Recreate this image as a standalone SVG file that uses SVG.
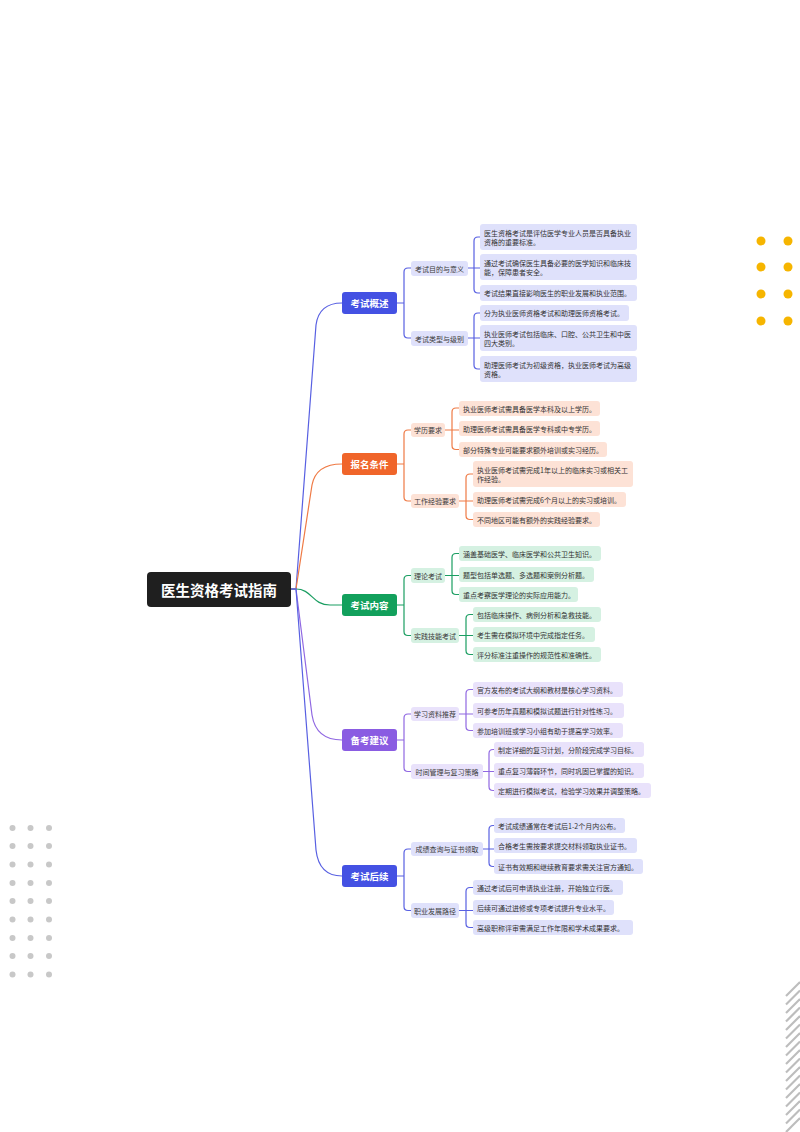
<svg xmlns="http://www.w3.org/2000/svg" width="800" height="1132" viewBox="0 0 800 1132">
<style>
text{font-family:"Noto Sans CJK SC","Noto Sans",sans-serif;dominant-baseline:central}
.root{fill:#1f1f1f}
.rt{fill:#fff;font-size:14.5px;font-weight:700;text-anchor:middle}
.l1t{fill:#fff;font-size:9.5px;font-weight:700;text-anchor:middle}
.l2t{fill:#3a3a3a;font-size:7px;text-anchor:middle}
.lt{fill:#333;font-size:7px}
.c{fill:none;stroke-width:1.2;stroke-linecap:round}
.cb{stroke:#5860e2}.co{stroke:#ef7a45}.cg{stroke:#1b9e62}.cp{stroke:#9068e2}
.fb1{fill:#4451e3}.fo1{fill:#f0652a}.fg1{fill:#12a05c}.fp1{fill:#8a5ce2}
.fb{fill:#dfe1fb}.fo{fill:#fde2d6}.fg{fill:#d5f1e2}.fp{fill:#e9e2fb}
.yd{fill:#f6b500}.gd{fill:#c8c8c8}
.st{stroke:#bdbdbd;stroke-width:2.2}
</style>
<g id="decor">
<circle class="yd" cx="761" cy="241" r="4.5"/><circle class="yd" cx="788" cy="241" r="4.5"/>
<circle class="yd" cx="761" cy="267" r="4.5"/><circle class="yd" cx="788" cy="267" r="4.5"/>
<circle class="yd" cx="761" cy="294" r="4.5"/><circle class="yd" cx="788" cy="294" r="4.5"/>
<circle class="yd" cx="761" cy="321" r="4.5"/><circle class="yd" cx="788" cy="321" r="4.5"/>
<g>
<circle class="gd" cx="12.5" cy="828" r="3"/><circle class="gd" cx="30.5" cy="828" r="3"/><circle class="gd" cx="49" cy="828" r="3"/>
<circle class="gd" cx="12.5" cy="846" r="3"/><circle class="gd" cx="30.5" cy="846" r="3"/><circle class="gd" cx="49" cy="846" r="3"/>
<circle class="gd" cx="12.5" cy="864.5" r="3"/><circle class="gd" cx="30.5" cy="864.5" r="3"/><circle class="gd" cx="49" cy="864.5" r="3"/>
<circle class="gd" cx="12.5" cy="883" r="3"/><circle class="gd" cx="30.5" cy="883" r="3"/><circle class="gd" cx="49" cy="883" r="3"/>
<circle class="gd" cx="12.5" cy="901" r="3"/><circle class="gd" cx="30.5" cy="901" r="3"/><circle class="gd" cx="49" cy="901" r="3"/>
<circle class="gd" cx="12.5" cy="919.5" r="3"/><circle class="gd" cx="30.5" cy="919.5" r="3"/><circle class="gd" cx="49" cy="919.5" r="3"/>
<circle class="gd" cx="12.5" cy="938" r="3"/><circle class="gd" cx="30.5" cy="938" r="3"/><circle class="gd" cx="49" cy="938" r="3"/>
<circle class="gd" cx="12.5" cy="956" r="3"/><circle class="gd" cx="30.5" cy="956" r="3"/><circle class="gd" cx="49" cy="956" r="3"/>
<circle class="gd" cx="12.5" cy="974.5" r="3"/><circle class="gd" cx="30.5" cy="974.5" r="3"/><circle class="gd" cx="49" cy="974.5" r="3"/>
</g>
<g class="st">
<line x1="786" y1="996" x2="800" y2="982"/><line x1="786" y1="1004.5" x2="800" y2="990.5"/>
<line x1="786" y1="1013" x2="800" y2="999"/><line x1="786" y1="1021.5" x2="800" y2="1007.5"/>
<line x1="786" y1="1030" x2="800" y2="1016"/><line x1="786" y1="1038.5" x2="800" y2="1024.5"/>
<line x1="786" y1="1047" x2="800" y2="1033"/><line x1="786" y1="1055.5" x2="800" y2="1041.5"/>
<line x1="786" y1="1064" x2="800" y2="1050"/><line x1="786" y1="1072.5" x2="800" y2="1058.5"/>
<line x1="786" y1="1081" x2="800" y2="1067"/><line x1="786" y1="1089.5" x2="800" y2="1075.5"/>
<line x1="786" y1="1098" x2="800" y2="1084"/><line x1="786" y1="1106.5" x2="800" y2="1092.5"/>
<line x1="786" y1="1115" x2="800" y2="1101"/><line x1="786" y1="1123.5" x2="800" y2="1109.5"/>
<line x1="786" y1="1132" x2="800" y2="1118"/>
</g>
</g>
<g id="connectors">
<path class="c cb" d="M291 589 H296 L316 325 Q319 303 342 303"/>
<path class="c co" d="M291 589 H296 L312 485 Q316 464 342 464"/>
<path class="c cg" d="M291 589 H296 C312 589 312 605 330 605 H342"/>
<path class="c cp" d="M291 589 H296 L312 715 Q316 740 342 740"/>
<path class="c cb" d="M291 589 H296 L316 850 Q319 876 342 876"/>
<!-- s1 -->
<path class="c cb" d="M397 303 H404 V272 Q404 268 408 268 H411 M397 303 H404 V334 Q404 338 408 338 H411"/>
<path class="c cb" d="M468 268 H474 V241 Q474 237 478 237 H480 M468 268 H480 M468 268 H474 V289 Q474 293 478 293 H480"/>
<path class="c cb" d="M468 338 H474 V317 Q474 313 478 313 H480 M468 338 H480 M468 338 H474 V365 Q474 369 478 369 H480"/>
<!-- s2 -->
<path class="c co" d="M397 464 H404 V434 Q404 430 408 430 H411 M397 464 H404 V497 Q404 501 408 501 H411"/>
<path class="c co" d="M445 430 H452 V412 Q452 408 456 408 H459 M445 430 H459 M445 430 H452 V445.5 Q452 449.5 456 449.5 H459"/>
<path class="c co" d="M459 501 H466 V478 Q466 474 470 474 H473 M459 501 H473 M459 501 H466 V515.5 Q466 519.5 470 519.5 H473"/>
<!-- s3 -->
<path class="c cg" d="M397 605 H404 V579.5 Q404 575.5 408 575.5 H411 M397 605 H404 V631.5 Q404 635.5 408 635.5 H411"/>
<path class="c cg" d="M445 575.5 H452 V557.5 Q452 553.5 456 553.5 H459 M445 575.5 H459 M445 575.5 H452 V590.5 Q452 594.5 456 594.5 H459"/>
<path class="c cg" d="M459 635.5 H466 V618.5 Q466 614.5 470 614.5 H473 M459 635.5 H473 M459 635.5 H466 V650.5 Q466 654.5 470 654.5 H473"/>
<!-- s4 -->
<path class="c cp" d="M397 740 H404 V718 Q404 714 408 714 H411 M397 740 H404 V767.5 Q404 771.5 408 771.5 H411"/>
<path class="c cp" d="M459 714 H466 V693.5 Q466 689.5 470 689.5 H473 M459 714 H473 M459 714 H466 V726.5 Q466 730.5 470 730.5 H473"/>
<path class="c cp" d="M483 771.5 H489 V753.5 Q489 749.5 493 749.5 H494 M483 771.5 H494 M483 771.5 H489 V786.5 Q489 790.5 493 790.5 H494"/>
<!-- s5 -->
<path class="c cb" d="M397 876 H404 V853 Q404 849 408 849 H411 M397 876 H404 V906.5 Q404 910.5 408 910.5 H411"/>
<path class="c cb" d="M483 849 H489 V829.5 Q489 825.5 493 825.5 H494 M483 849 H494 M483 849 H489 V862.5 Q489 866.5 493 866.5 H494"/>
<path class="c cb" d="M459 910.5 H466 V891.5 Q466 887.5 470 887.5 H473 M459 910.5 H473 M459 910.5 H466 V923.5 Q466 927.5 470 927.5 H473"/>
</g>
<g id="root"><rect class="root" x="147" y="572" width="144" height="35" rx="4"/><text class="rt" x="219" y="589.5">医生资格考试指南</text></g>

<g id="n1"><rect class="fb1" x="342" y="292" width="55" height="22" rx="3"/><text class="l1t" x="369.5" y="303">考试概述</text></g>
<g id="n1a"><rect class="fb" x="411" y="261" width="57" height="15" rx="3"/><text class="l2t" x="439.5" y="268.5">考试目的与意义</text></g>
<g id="n1a1"><rect class="fb" x="480" y="224" width="157" height="26" rx="3"/><text class="lt" x="484" y="232.5">医生资格考试是评估医学专业人员是否具备执业</text><text class="lt" x="484" y="242">资格的重要标准。</text></g>
<g id="n1a2"><rect class="fb" x="480" y="254" width="157" height="26" rx="3"/><text class="lt" x="484" y="262.5">通过考试确保医生具备必要的医学知识和临床技</text><text class="lt" x="484" y="272">能，保障患者安全。</text></g>
<g id="n1a3"><rect class="fb" x="480" y="285" width="157" height="16" rx="3"/><text class="lt" x="484" y="293">考试结果直接影响医生的职业发展和执业范围。</text></g>
<g id="n1b"><rect class="fb" x="411" y="331" width="57" height="15" rx="3"/><text class="l2t" x="439.5" y="338.5">考试类型与级别</text></g>
<g id="n1b1"><rect class="fb" x="480" y="305" width="149" height="16" rx="3"/><text class="lt" x="484" y="313">分为执业医师资格考试和助理医师资格考试。</text></g>
<g id="n1b2"><rect class="fb" x="480" y="325" width="157" height="26" rx="3"/><text class="lt" x="484" y="333.5">执业医师考试包括临床、口腔、公共卫生和中医</text><text class="lt" x="484" y="343">四大类别。</text></g>
<g id="n1b3"><rect class="fb" x="480" y="356" width="157" height="26" rx="3"/><text class="lt" x="484" y="364.5">助理医师考试为初级资格，执业医师考试为高级</text><text class="lt" x="484" y="374">资格。</text></g>

<g id="n2"><rect class="fo1" x="342" y="453" width="55" height="22" rx="3"/><text class="l1t" x="369.5" y="464">报名条件</text></g>
<g id="n2a"><rect class="fo" x="411" y="423" width="34" height="14" rx="3"/><text class="l2t" x="428" y="430">学历要求</text></g>
<g id="n2a1"><rect class="fo" x="459" y="401" width="141" height="15" rx="3"/><text class="lt" x="463" y="408.5">执业医师考试需具备医学本科及以上学历。</text></g>
<g id="n2a2"><rect class="fo" x="459" y="421" width="141" height="15" rx="3"/><text class="lt" x="463" y="428.5">助理医师考试需具备医学专科或中专学历。</text></g>
<g id="n2a3"><rect class="fo" x="459" y="442" width="148" height="15" rx="3"/><text class="lt" x="463" y="449.5">部分特殊专业可能要求额外培训或实习经历。</text></g>
<g id="n2b"><rect class="fo" x="411" y="494" width="48" height="14" rx="3"/><text class="l2t" x="435" y="501">工作经验要求</text></g>
<g id="n2b1"><rect class="fo" x="473" y="461" width="160" height="26" rx="3"/><text class="lt" x="477" y="469.5">执业医师考试需完成1年以上的临床实习或相关工</text><text class="lt" x="477" y="479">作经验。</text></g>
<g id="n2b2"><rect class="fo" x="473" y="492" width="153" height="15" rx="3"/><text class="lt" x="477" y="499.5">助理医师考试需完成6个月以上的实习或培训。</text></g>
<g id="n2b3"><rect class="fo" x="473" y="512" width="127" height="15" rx="3"/><text class="lt" x="477" y="519.5">不同地区可能有额外的实践经验要求。</text></g>

<g id="n3"><rect class="fg1" x="342" y="594" width="55" height="22" rx="3"/><text class="l1t" x="369.5" y="605">考试内容</text></g>
<g id="n3a"><rect class="fg" x="411" y="568" width="34" height="15" rx="3"/><text class="l2t" x="428" y="575.5">理论考试</text></g>
<g id="n3a1"><rect class="fg" x="459" y="546" width="142" height="15" rx="3"/><text class="lt" x="463" y="553.5">涵盖基础医学、临床医学和公共卫生知识。</text></g>
<g id="n3a2"><rect class="fg" x="459" y="567" width="135" height="15" rx="3"/><text class="lt" x="463" y="574.5">题型包括单选题、多选题和案例分析题。</text></g>
<g id="n3a3"><rect class="fg" x="459" y="587" width="119" height="15" rx="3"/><text class="lt" x="463" y="594.5">重点考察医学理论的实际应用能力。</text></g>
<g id="n3b"><rect class="fg" x="411" y="628" width="48" height="15" rx="3"/><text class="l2t" x="435" y="635.5">实践技能考试</text></g>
<g id="n3b1"><rect class="fg" x="473" y="607" width="128" height="15" rx="3"/><text class="lt" x="477" y="614.5">包括临床操作、病例分析和急救技能。</text></g>
<g id="n3b2"><rect class="fg" x="473" y="627" width="122" height="15" rx="3"/><text class="lt" x="477" y="634.5">考生需在模拟环境中完成指定任务。</text></g>
<g id="n3b3"><rect class="fg" x="473" y="647" width="128" height="15" rx="3"/><text class="lt" x="477" y="654.5">评分标准注重操作的规范性和准确性。</text></g>

<g id="n4"><rect class="fp1" x="342" y="729" width="55" height="22" rx="3"/><text class="l1t" x="369.5" y="740">备考建议</text></g>
<g id="n4a"><rect class="fp" x="411" y="707" width="48" height="14" rx="3"/><text class="l2t" x="435" y="714">学习资料推荐</text></g>
<g id="n4a1"><rect class="fp" x="473" y="682" width="150" height="15" rx="3"/><text class="lt" x="477" y="689.5">官方发布的考试大纲和教材是核心学习资料。</text></g>
<g id="n4a2"><rect class="fp" x="473" y="703" width="151" height="15" rx="3"/><text class="lt" x="477" y="710.5">可参考历年真题和模拟试题进行针对性练习。</text></g>
<g id="n4a3"><rect class="fp" x="473" y="723" width="150" height="15" rx="3"/><text class="lt" x="477" y="730.5">参加培训班或学习小组有助于提高学习效率。</text></g>
<g id="n4b"><rect class="fp" x="411" y="764" width="72" height="15" rx="3"/><text class="l2t" x="447" y="771.5">时间管理与复习策略</text></g>
<g id="n4b1"><rect class="fp" x="494" y="742" width="150" height="15" rx="3"/><text class="lt" x="498" y="749.5">制定详细的复习计划，分阶段完成学习目标。</text></g>
<g id="n4b2"><rect class="fp" x="494" y="763" width="150" height="15" rx="3"/><text class="lt" x="498" y="770.5">重点复习薄弱环节，同时巩固已掌握的知识。</text></g>
<g id="n4b3"><rect class="fp" x="494" y="783" width="157" height="15" rx="3"/><text class="lt" x="498" y="790.5">定期进行模拟考试，检验学习效果并调整策略。</text></g>

<g id="n5"><rect class="fb1" x="342" y="865" width="55" height="22" rx="3"/><text class="l1t" x="369.5" y="876">考试后续</text></g>
<g id="n5a"><rect class="fb" x="411" y="842" width="72" height="14" rx="3"/><text class="l2t" x="447" y="849">成绩查询与证书领取</text></g>
<g id="n5a1"><rect class="fb" x="494" y="818" width="131" height="15" rx="3"/><text class="lt" x="498" y="825.5">考试成绩通常在考试后1-2个月内公布。</text></g>
<g id="n5a2"><rect class="fb" x="494" y="838" width="143" height="15" rx="3"/><text class="lt" x="498" y="845.5">合格考生需按要求提交材料领取执业证书。</text></g>
<g id="n5a3"><rect class="fb" x="494" y="859" width="149" height="15" rx="3"/><text class="lt" x="498" y="866.5">证书有效期和继续教育要求需关注官方通知。</text></g>
<g id="n5b"><rect class="fb" x="411" y="903" width="48" height="15" rx="3"/><text class="l2t" x="435" y="910.5">职业发展路径</text></g>
<g id="n5b1"><rect class="fb" x="473" y="880" width="150" height="15" rx="3"/><text class="lt" x="477" y="887.5">通过考试后可申请执业注册，开始独立行医。</text></g>
<g id="n5b2"><rect class="fb" x="473" y="900" width="141" height="15" rx="3"/><text class="lt" x="477" y="907.5">后续可通过进修或专项考试提升专业水平。</text></g>
<g id="n5b3"><rect class="fb" x="473" y="920" width="160" height="15" rx="3"/><text class="lt" x="477" y="927.5">高级职称评审需满足工作年限和学术成果要求。</text></g>
</svg>
